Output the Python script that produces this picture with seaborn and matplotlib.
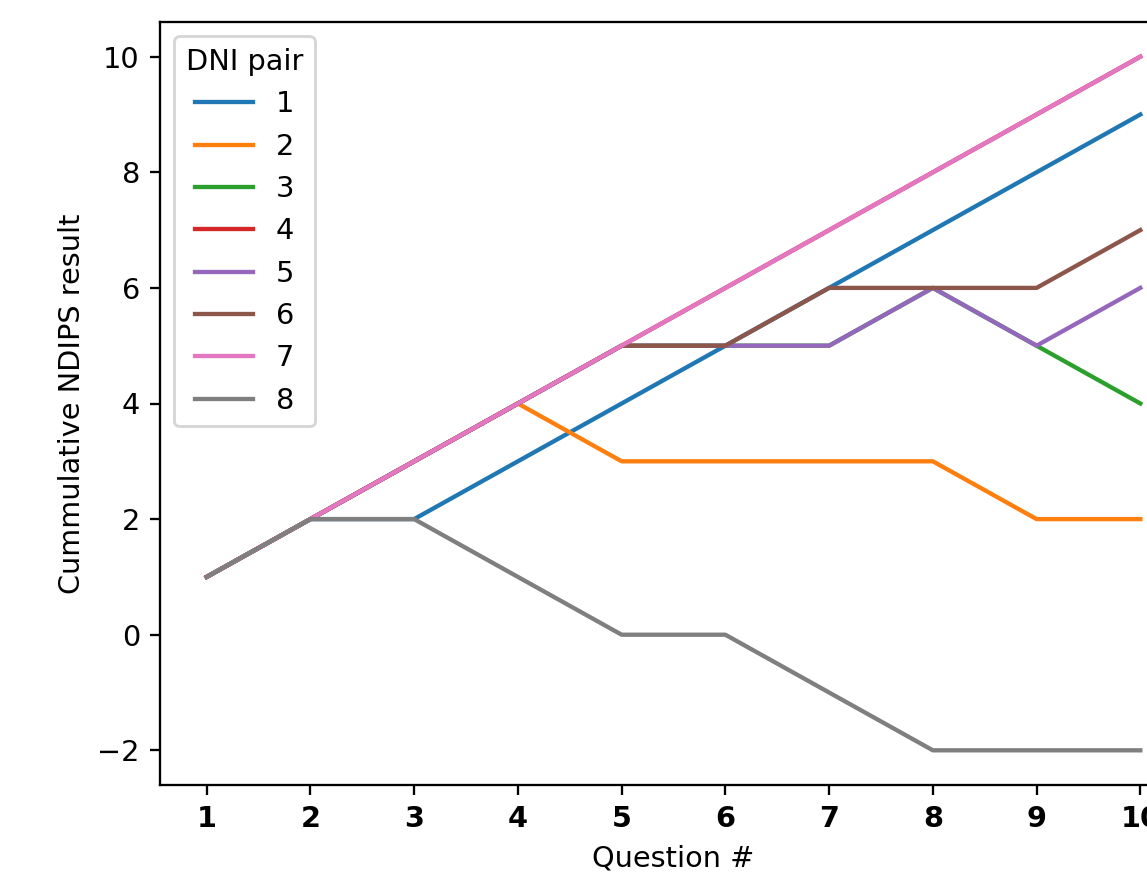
import seaborn as sns
import pandas as pd
import matplotlib
matplotlib.use("Agg")
import matplotlib.pyplot as plt

# Question numbers and cumulative results per DNI pair
questions = [1, 2, 3, 4, 5, 6, 7, 8, 9, 10]
pair_1 = [1, 2, 2, 3, 4, 5, 6, 7, 8, 9]
pair_2 = [1, 2, 3, 4, 3, 3, 3, 3, 2, 2]
pair_3 = [1, 2, 3, 4, 5, 5, 5, 6, 5, 4]
pair_4 = [1, 2, 3, 4, 5, 6, 7, 8, 9, 10]
pair_5 = [1, 2, 3, 4, 5, 5, 5, 6, 5, 6]
pair_6 = [1, 2, 3, 4, 5, 5, 6, 6, 6, 7]
pair_7 = [1, 2, 3, 4, 5, 6, 7, 8, 9, 10]
pair_8 = [1, 2, 2, 1, 0, 0, -1, -2, -2, -2]
pair_names = ["1", "2", "3", "4", "5", "6", "7", "8"]

series = [pair_1, pair_2, pair_3, pair_4, pair_5, pair_6, pair_7, pair_8]

# Build a long table for seaborn
rows = []
for name, vals in zip(pair_names, series):
    for q, v in zip(questions, vals):
        rows.append({"Question #": q, "Cummulative NDIPS result": v, "DNI pair": name})
df = pd.DataFrame(rows)

dpi = 207
fig = plt.figure(figsize=(1147 / dpi, 876 / dpi), dpi=dpi)
ax = fig.add_axes([160 / 1147, 91 / 876, 1027 / 1147, 763 / 876])

sns.lineplot(data=df, x="Question #", y="Cummulative NDIPS result",
             hue="DNI pair", hue_order=pair_names, palette="tab10", ax=ax)

ax.set_xticks(questions)
for lbl in ax.get_xticklabels():
    lbl.set_fontweight("bold")
ax.legend(title="DNI pair", loc="upper left")

fig.savefig("out.png", dpi=dpi)
